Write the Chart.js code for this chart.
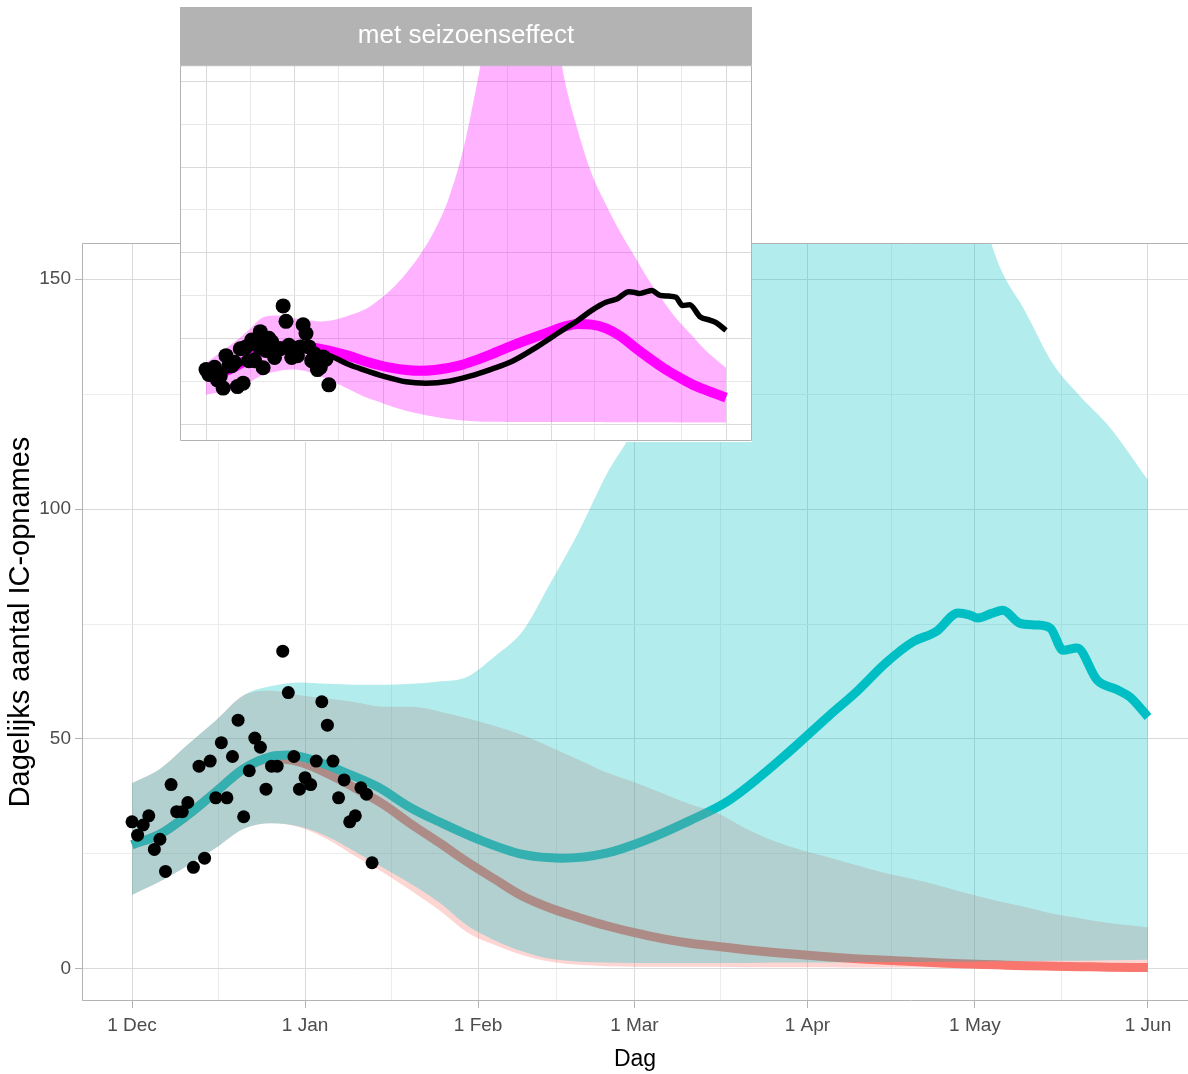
<!DOCTYPE html>
<html><head><meta charset="utf-8">
<script src="https://cdn.jsdelivr.net/npm/chart.js@4.4.1/dist/chart.umd.min.js"></script>
<style>
html,body{margin:0;padding:0;background:#fff;}
#wrap{position:relative;width:1188px;height:1074px;overflow:hidden;background:#fff;}
#main{position:absolute;left:0;top:0;}
#inset{position:absolute;left:180px;top:7px;}
</style></head><body>
<div id="wrap">
<canvas id="main" width="1188" height="1074"></canvas>
<canvas id="inset" width="572" height="435"></canvas>
</div>
<script>
// ---- data (day 0 = 1 Dec) ----
const monthDays = [0, 31, 62, 90, 121, 151, 182];
const monthLabels = ['1 Dec', '1 Jan', '1 Feb', '1 Mar', '1 Apr', '1 May', '1 Jun'];
const minorDays = [15.5, 46.5, 76, 105.5, 136, 166.5];
const yMajor = [0, 50, 100, 150];
const yMinor = [25, 75, 125];
const insetYTicks = [0, 25, 50, 75, 100, 125, 150, 175, 200];

const obsDays = [0,1,2,3,4,5,6,7,8,9,10,11,12,13,14,15,16,17,18,19,20,21,22,23,24,25,26,27,28,29,30,31,32,33,34,35,36,37,38,39,40,41,42,43];
const obsValues = [32.0,29.1,31.3,33.3,26.0,28.2,21.2,40.1,34.2,34.2,36.2,22.1,44.1,24.1,45.2,37.2,49.2,37.2,46.2,54.1,33.1,43.1,50.2,48.2,39.1,44.1,44.1,69.1,60.1,46.2,39.1,41.6,40.1,45.2,58.1,53.0,45.2,37.2,41.1,32.0,33.3,39.4,38.0,23.1];

const modelDays = [0,5,10,15,20,25,30,35,40,45,50,55,60,65,70,75,80,85,90,95,100,105,110,115,120,125,130,135,140,145,150,155,160,165,170,175,182];
const tealUpper = [40.4,43.5,48.8,54,59.5,61.5,62.3,62,61.8,61.8,62,62.5,63.5,68,73.5,84,95,107.5,118,135,155,180,210,240,260,270,265,250,225,200,175,154,143,131.5,124.3,118,106.3];
const tealLower = [16.1,19,22.5,26.3,30.5,31.7,31,28.8,25.5,22,18.5,14.5,9.5,6.2,3.8,2.2,1.6,1.4,1.3,1.3,1.3,1.3,1.3,1.4,1.4,1.4,1.5,1.5,1.5,1.6,1.6,1.7,1.7,1.8,1.8,1.9,2.0];
const redUpper = [40.4,43.5,48.8,54,59.5,60.5,59.5,58.8,58,57,57,56,54.5,52.8,50.8,48.2,45.5,42.7,40.6,38.2,35.8,33.8,30.5,27.8,25.8,24.2,22.5,20.8,19.5,18,16.3,14.8,13.5,12,11,10,9.1];
const redLower = [16.1,19,22.5,26.3,30.5,31.7,30.8,28.2,24.5,21,17,12.8,8,5.2,3,1.6,0.9,0.6,0.5,0.5,0.5,0.5,0.4,0.4,0.4,0.4,0.3,0.3,0.3,0.3,0.2,0.2,0.2,0.2,0.2,0.2,0.2];
const redMean = [27,29.3,33.5,38.5,43.5,45.8,45,42.5,39.3,35.8,31.5,27.5,23.3,19.5,15.8,13.2,11.2,9.4,7.9,6.6,5.6,4.9,4.2,3.6,3.1,2.6,2.2,1.9,1.6,1.3,1.1,0.9,0.7,0.6,0.5,0.4,0.3];

const tealDays = [0,5,10,15,20,25,28,32,38,44,50,55,62,70,77,85,92,100,107,116,125,130,135,140,144,148,150,151.5,154,156,159,162,164.5,166.8,169.3,172.9,176.5,178.8,182];
const tealMean = [27,29.3,33.5,38.5,43.5,46.2,46.5,45.6,42.8,39.6,35,32,28.2,24.9,24.1,25.2,28,32.3,36.7,45.4,55.2,60.5,66.5,71.2,73.3,77.4,77,76.3,77.3,78,75.2,74.8,74.1,69.3,69.8,62.8,60.7,59.1,54.8];

// inset "met seizoenseffect"
const magUpper = [36,42,48,55,62.5,63.5,62,61,60,61,63.5,66.5,72,79,88,99,113,132,160,200,245,290,310,300,260,205,172,146,128,112,98,84,72,61,52,43,33];
const magLower = [17.4,18.8,20.3,24.5,28.8,31,32,31,28,24.6,20.5,16.5,13.5,10.5,8,6.2,4.5,3.2,2.3,1.8,1.6,1.5,1.5,1.5,1.4,1.4,1.4,1.4,1.3,1.3,1.3,1.3,1.3,1.2,1.2,1.2,1.2];
const magMean = [28.5,30,33.5,38.5,43,45.5,46,45.5,44,42.2,40,37.2,34.8,33,31.8,31.3,31.8,33,35,37.8,41,44.5,47.8,50.8,53.8,56.8,58.6,58.2,56,51.5,45,38.8,33,28,23.5,20,15.7];

// ---- helpers ----
const SANS = "'Liberation Sans',Arial,sans-serif";
const TEAL = '#00BFC4', RED = '#F8766D', MAG = '#FF00FF';
const pts = (xs, ys) => xs.map((x, i) => ({x: x, y: ys[i]}));
const isIn = (arr, v) => arr.some(a => Math.abs(a - v) < 1e-6);
const xTickDays = monthDays.concat(minorDays).sort((a, b) => a - b);
const yTicks = yMajor.concat(yMinor).sort((a, b) => a - b);

const framePlugin = {
  id: 'frame',
  afterDraw(chart, args, opts) {
    const {ctx, chartArea: a} = chart;
    ctx.save();
    ctx.strokeStyle = '#b3b3b3';
    ctx.lineWidth = 1;
    ctx.beginPath();
    if (opts.full) {
      ctx.rect(a.left + 0.5, a.top + 0.5, a.right - a.left - 1, a.bottom - a.top - 1);
    } else {
      ctx.moveTo(a.right, a.top + 0.5);
      ctx.lineTo(a.left + 0.5, a.top + 0.5);
      ctx.lineTo(a.left + 0.5, a.bottom - 0.5);
      ctx.lineTo(a.right, a.bottom - 0.5);
    }
    ctx.stroke();
    ctx.restore();
  }
};

const stripPlugin = {
  id: 'strip',
  beforeDraw(chart) {
    const {ctx, chartArea: a, width, height} = chart;
    ctx.save();
    ctx.fillStyle = '#ffffff';
    ctx.fillRect(0, 0, width, height);
    ctx.fillStyle = '#b3b3b3';
    ctx.fillRect(0, 0, width, a.top);
    ctx.restore();
  }
};

const lineBase = {pointRadius: 0, pointHoverRadius: 0, fill: false, cubicInterpolationMode: 'monotone', borderCapStyle: 'butt', borderJoinStyle: 'round'};
const ribbonBase = {pointRadius: 0, pointHoverRadius: 0, borderWidth: 0, borderColor: 'rgba(0,0,0,0)', cubicInterpolationMode: 'monotone'};

// ---- main chart ----
new Chart(document.getElementById('main'), {
  type: 'line',
  data: {
    datasets: [
      {label: 'IC-opnames', data: pts(obsDays, obsValues), showLine: false, pointRadius: 6.5, pointHoverRadius: 6.5, pointBackgroundColor: '#000', pointBorderWidth: 0, borderColor: '#000', order: 0},
      Object.assign({label: 'interval zonder seizoenseffect (boven)', data: pts(modelDays, tealUpper), fill: 2, backgroundColor: 'rgba(0,191,196,0.3)', order: 1}, ribbonBase),
      Object.assign({label: 'interval zonder seizoenseffect (onder)', data: pts(modelDays, tealLower), fill: false, order: 1}, ribbonBase),
      Object.assign({label: 'interval scenario 2 (boven)', data: pts(modelDays, redUpper), fill: 4, backgroundColor: 'rgba(248,118,109,0.3)', order: 2}, ribbonBase),
      Object.assign({label: 'interval scenario 2 (onder)', data: pts(modelDays, redLower), fill: false, order: 2}, ribbonBase),
      Object.assign({label: 'scenario 1', data: pts(tealDays, tealMean), borderColor: TEAL, borderWidth: 9, order: 3}, lineBase),
      Object.assign({label: 'scenario 2', data: pts(modelDays, redMean), borderColor: RED, borderWidth: 9, order: 4}, lineBase)
    ]
  },
  options: {
    responsive: false, animation: false, devicePixelRatio: 1,
    layout: {autoPadding: false, padding: {top: 243, left: 0, right: 0, bottom: 0}},
    plugins: {legend: {display: false}, tooltip: {enabled: false}, frame: {full: false}},
    events: [],
    scales: {
      x: {
        type: 'linear', min: -8.96, max: 189.17,
        afterBuildTicks: s => { s.ticks = xTickDays.map(v => ({value: v})); },
        afterFit: s => { s.height = 73; },
        ticks: {autoSkip: false, maxRotation: 0, minRotation: 0, padding: 6, color: '#4d4d4d', font: {family: SANS, size: 19},
          callback: v => { const i = monthDays.indexOf(v); return i >= 0 ? monthLabels[i] : ''; }},
        grid: {lineWidth: 1, tickLength: 7,
          color: c => (c.tick && isIn(monthDays, c.tick.value)) ? '#dadada' : '#ececec',
          tickColor: c => (c.tick && isIn(monthDays, c.tick.value)) ? '#b3b3b3' : 'rgba(0,0,0,0)'},
        border: {display: false},
        title: {display: true, text: 'Dag', color: '#000', font: {family: SANS, size: 23}, padding: {top: 0, bottom: 1}}
      },
      y: {
        type: 'linear', min: -6.96, max: 157.83,
        afterBuildTicks: s => { s.ticks = yTicks.map(v => ({value: v})); },
        afterFit: s => { s.width = 82; },
        ticks: {autoSkip: false, padding: 4, color: '#4d4d4d', font: {family: SANS, size: 19},
          callback: v => isIn(yMajor, v) ? String(v) : ''},
        grid: {lineWidth: 1, tickLength: 7,
          color: c => (c.tick && isIn(yMajor, c.tick.value)) ? '#dadada' : '#ececec',
          tickColor: c => (c.tick && isIn(yMajor, c.tick.value)) ? '#b3b3b3' : 'rgba(0,0,0,0)'},
        border: {display: false},
        title: {display: true, text: 'Dagelijks aantal IC-opnames', color: '#000', font: {family: SANS, size: 29}, padding: {top: 4, bottom: 0}}
      }
    }
  },
  plugins: [framePlugin]
});

// ---- inset chart ----
new Chart(document.getElementById('inset'), {
  type: 'line',
  data: {
    datasets: [
      {label: 'IC-opnames', data: pts(obsDays, obsValues), showLine: false, pointRadius: 7.5, pointHoverRadius: 7.5, pointBackgroundColor: '#000', pointBorderWidth: 0, borderColor: '#000', order: 0},
      Object.assign({label: 'zonder seizoenseffect', data: pts(tealDays, tealMean), borderColor: '#000', borderWidth: 5.5, order: 1}, lineBase),
      Object.assign({label: 'met seizoenseffect', data: pts(modelDays, magMean), borderColor: MAG, borderWidth: 10, order: 2}, lineBase),
      Object.assign({label: 'interval met seizoenseffect (boven)', data: pts(modelDays, magUpper), fill: 4, backgroundColor: 'rgba(255,0,255,0.3)', order: 3}, ribbonBase),
      Object.assign({label: 'interval met seizoenseffect (onder)', data: pts(modelDays, magLower), fill: false, order: 3}, ribbonBase)
    ]
  },
  options: {
    responsive: false, animation: false, devicePixelRatio: 1,
    layout: {autoPadding: false, padding: {top: 0, left: 0, right: 0, bottom: 1}},
    events: [],
    plugins: {
      legend: {display: false}, tooltip: {enabled: false}, frame: {full: true},
      title: {display: true, text: 'met seizoenseffect', color: '#ffffff', font: {family: SANS, size: 26, weight: 'normal'}, padding: {top: 13, bottom: 14}}
    },
    scales: {
      x: {
        type: 'linear', min: -9.1, max: 191.1,
        afterBuildTicks: s => { s.ticks = xTickDays.map(v => ({value: v})); },
        afterFit: s => { s.height = 0; },
        ticks: {display: false},
        grid: {drawTicks: false, lineWidth: 1, color: c => (c.tick && isIn(monthDays, c.tick.value)) ? '#dadada' : '#e8e8e8'},
        border: {display: false}
      },
      y: {
        type: 'linear', min: -9.6, max: 209.3,
        afterBuildTicks: s => { s.ticks = insetYTicks.map(v => ({value: v})); },
        afterFit: s => { s.width = 0; },
        ticks: {display: false},
        grid: {drawTicks: false, lineWidth: 1, color: c => (c.tick && c.tick.value % 50 === 0) ? '#dadada' : '#e8e8e8'},
        border: {display: false}
      }
    }
  },
  plugins: [stripPlugin, framePlugin]
});
</script>
</body></html>
